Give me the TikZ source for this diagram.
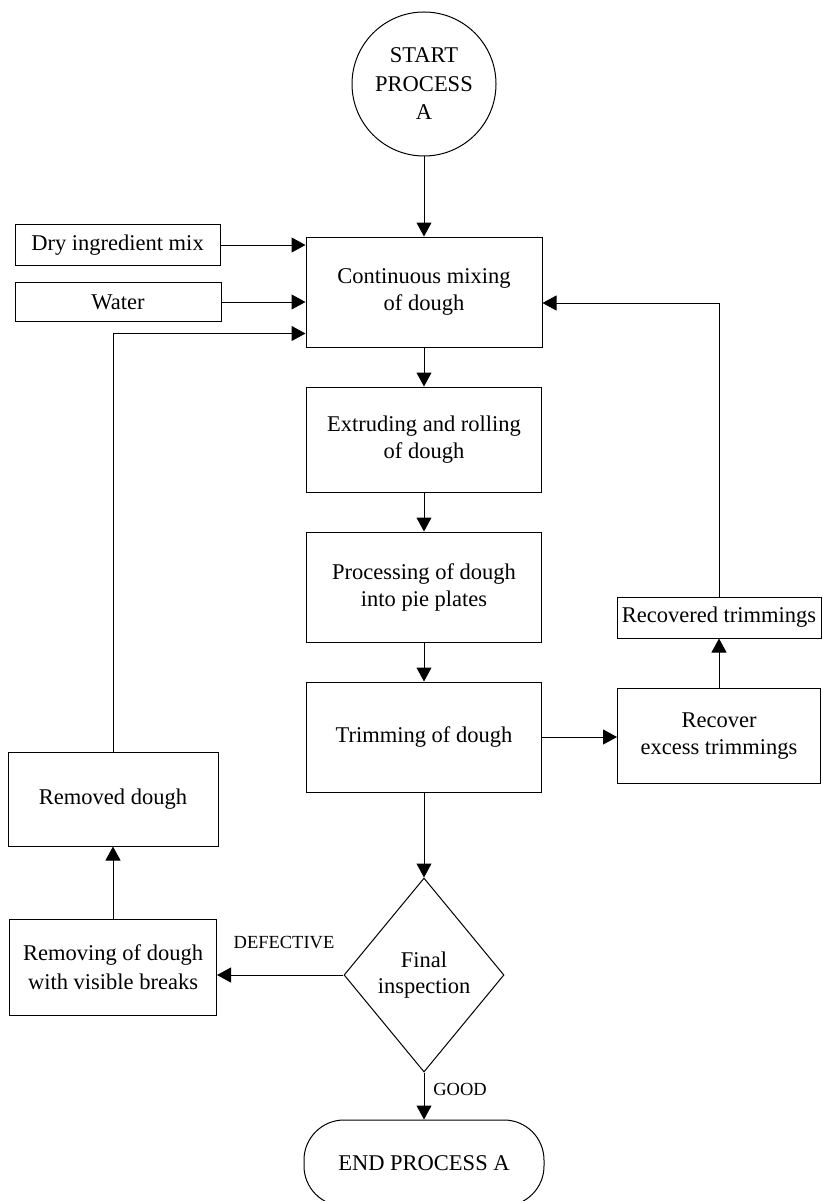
\documentclass[tikz,border=0pt]{standalone}
\usepackage{fontspec}
\setmainfont{Liberation Serif}
\usetikzlibrary{arrows.meta,shapes.geometric}
\begin{document}
\begin{tikzpicture}[x=1pt,y=-1pt,
  every node/.style={font=\fontsize{22.5}{27}\selectfont, align=center},
  stepbox/.style={draw, rectangle, line width=1pt, inner sep=0pt},
  arr/.style={line width=1pt, -{Triangle[length=14pt,width=15pt]}},
  lbl/.style={font=\fontsize{18.5}{22}\selectfont, inner sep=0pt}]
\useasboundingbox (0,0) rectangle (822,1201);

% main column
\node[draw, circle, line width=1pt, minimum size=144pt, inner sep=0pt,
      font=\fontsize{22.5}{28.5}\selectfont] (start) at (424,84) {START\\PROCESS\\A};
\node[stepbox, minimum width=236pt, minimum height=110pt] (cont) at (424,292) {Continuous mixing\\of dough};
\node[stepbox, minimum width=235pt, minimum height=105pt] (extr) at (424,439.5) {Extruding and rolling\\of dough};
\node[stepbox, minimum width=235pt, minimum height=110pt] (proc) at (424,587) {Processing of dough\\into pie plates};
\node[stepbox, minimum width=235pt, minimum height=110pt] (trim) at (424,737) {Trimming of dough};
\node[draw, diamond, line width=1pt, minimum width=160pt, minimum height=194pt, inner sep=0pt,
      font=\fontsize{22.5}{26}\selectfont] (insp) at (424,975) {Final\\inspection};
\node[draw, rectangle, rounded corners=40pt, line width=1pt, minimum width=240pt, minimum height=86pt]
      (endp) at (424,1163) {END PROCESS A};

% inputs on the left
\node[stepbox, minimum width=205pt, minimum height=41pt] (dry) at (117.5,245) {Dry ingredient mix};
\node[stepbox, minimum width=206pt, minimum height=39pt] (water) at (118,302) {Water};

% rejected dough loop
\node[stepbox, minimum width=210pt, minimum height=94pt] (removed) at (113,799) {Removed dough};
\node[stepbox, minimum width=207pt, minimum height=96pt,
      font=\fontsize{22.5}{29}\selectfont] (removing) at (113,967) {Removing of dough\\with visible breaks};

% trimmings loop
\node[stepbox, minimum width=203pt, minimum height=95pt] (recover) at (719,736) {Recover\\excess trimmings};
\node[stepbox, minimum width=204pt, minimum height=41pt] (recovered) at (719,617.5) {Recovered trimmings};

% flow
\draw[arr] (start) -- (cont);
\draw[arr] (cont) -- (extr);
\draw[arr] (extr) -- (proc);
\draw[arr] (proc) -- (trim);
\draw[arr] (trim) -- (insp);
\draw[arr] (insp) -- (endp);
\draw[arr] (dry) -- (dry -| cont.west);
\draw[arr] (water) -- (water -| cont.west);
\draw[arr] (removed.north) |- ([yshift=14pt]cont.south west);
\draw[arr] (recovered.north) |- ([yshift=-11pt]cont.east);
\draw[arr] (trim) -- (trim -| recover.west);
\draw[arr] (recover) -- (recovered);
\draw[arr] (removing) -- (removed);
\draw[arr] (insp) -- (insp -| removing.east);

% branch labels
\node[lbl] (deflbl) at (284,943) {DEFECTIVE};
\node[lbl] (goodlbl) at (460,1089) {GOOD};
\end{tikzpicture}
\end{document}
